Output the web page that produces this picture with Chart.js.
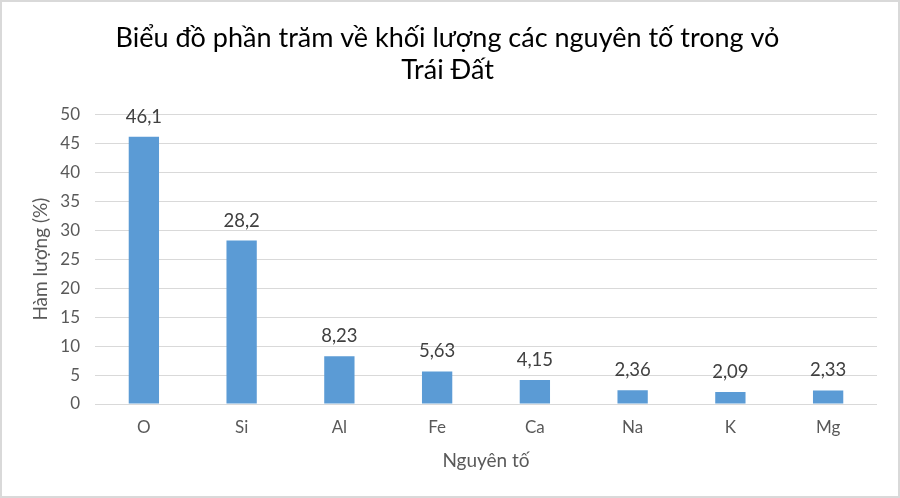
<!DOCTYPE html>
<html><head><meta charset="utf-8">
<script src="https://cdn.jsdelivr.net/npm/chart.js@4/dist/chart.umd.min.js"></script>
<style>
html,body{margin:0;padding:0;background:#fff;}
#wrap{position:relative;width:900px;height:498px;}
#frame{position:absolute;left:0;top:0;width:900px;height:498px;box-sizing:border-box;border:2px solid #d9d9d9;pointer-events:none;}
canvas{position:absolute;left:0;top:0;}
</style></head>
<body>
<div id="wrap"><canvas id="c" width="900" height="498"></canvas><div id="frame"></div></div>
<script>
const categories = ["O","Si","Al","Fe","Ca","Na","K","Mg"];
const values = [46.1, 28.2, 8.23, 5.63, 4.15, 2.36, 2.09, 2.33];
const valueLabels = ["46,1","28,2","8,23","5,63","4,15","2,36","2,09","2,33"];
const titleLines = ["Biểu đồ phần trăm về khối lượng các nguyên tố trong vỏ","Trái Đất"];
const xTitle = "Nguyên tố";
const yTitle = "Hàm lượng (%)";

const FONT = "Lato, 'Liberation Sans', sans-serif";

const dataLabelPlugin = {
  id: 'dataLabels',
  afterDatasetsDraw(chart) {
    const ctx = chart.ctx;
    const meta = chart.getDatasetMeta(0);
    ctx.save();
    ctx.font = "18.5px " + FONT;
    ctx.fillStyle = "#404040";
    ctx.textAlign = "center";
    ctx.textBaseline = "alphabetic";
    meta.data.forEach((bar, i) => {
      ctx.fillText(valueLabels[i], bar.x, bar.y - 14);
    });
    ctx.restore();
  }
};

new Chart(document.getElementById('c'), {
  type: 'bar',
  data: {
    labels: categories,
    datasets: [{
      data: values,
      backgroundColor: '#5b9bd5',
      borderWidth: 0,
      categoryPercentage: 1.0,
      barPercentage: 0.31
    }]
  },
  options: {
    responsive: false,
    animation: false,
    devicePixelRatio: 1,
    layout: { padding: { top: 22, right: 23, bottom: 26, left: 18 } },
    plugins: {
      legend: { display: false },
      tooltip: { enabled: false },
      title: {
        display: true,
        text: titleLines,
        color: '#000000',
        font: { family: FONT, size: 27, weight: 'normal', lineHeight: 1.19 },
        padding: { top: 0, bottom: 28 }
      }
    },
    scales: {
      x: {
        grid: { display: false, drawTicks: false },
        border: { display: false },
        ticks: { color: '#595959', font: { family: FONT, size: 17 }, padding: 13 },
        title: { display: true, text: xTitle, color: '#595959', font: { family: FONT, size: 19 }, padding: { top: 0, bottom: 0 } },
        afterFit(s) { s.height = 68; }
      },
      y: {
        min: 0, max: 50,
        ticks: { stepSize: 5, color: '#595959', font: { family: FONT, size: 17 }, padding: 15 },
        grid: { color: '#d9d9d9', lineWidth: 1, drawTicks: false },
        border: { display: false },
        title: { display: true, text: yTitle, color: '#595959', font: { family: FONT, size: 19 }, padding: { top: 11, bottom: 0 } },
        afterFit(s) { s.width = 77; }
      }
    }
  },
  plugins: [dataLabelPlugin]
});
</script>
</body></html>
